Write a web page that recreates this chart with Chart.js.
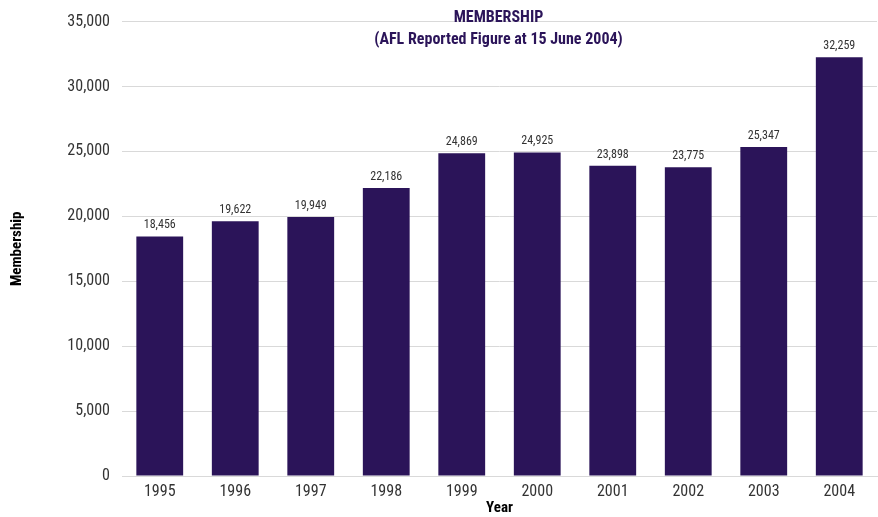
<!DOCTYPE html>
<html>
<head>
<meta charset="utf-8">
<script src="https://cdn.jsdelivr.net/npm/chart.js@4"></script>
<style>
html,body{margin:0;padding:0;background:#fff;}
#wrap{width:878px;height:517px;}
</style>
</head>
<body>
<div id="wrap"><canvas id="c" width="878" height="517"></canvas></div>
<script>
const categories = ["1995","1996","1997","1998","1999","2000","2001","2002","2003","2004"];
const membership = [18456, 19622, 19949, 22186, 24869, 24925, 23898, 23775, 25347, 32259];
const titleLines = ["MEMBERSHIP", "(AFL Reported Figure at 15 June 2004)"];
const yAxisTitle = "Membership";
const xAxisTitle = "Year";

const FONT = '"Roboto Condensed", "Open Sans Condensed", sans-serif';
const BAR = '#2b1459';

const labelPlugin = {
  id: 'valueLabels',
  afterDatasetsDraw(chart) {
    const ctx = chart.ctx;
    const meta = chart.getDatasetMeta(0);
    ctx.save();
    ctx.font = '12px ' + FONT;
    ctx.fillStyle = '#333333';
    ctx.textAlign = 'center';
    ctx.textBaseline = 'bottom';
    meta.data.forEach((bar, i) => {
      ctx.fillText(membership[i].toLocaleString('en-US'), bar.x, bar.y - 5);
    });
    ctx.restore();
  }
};

const titlePlugin = {
  id: 'innerTitle',
  afterDraw(chart) {
    const ctx = chart.ctx;
    const a = chart.chartArea;
    const cx = (a.left + a.right) / 2 - 1;
    ctx.save();
    ctx.font = 'bold 16px ' + FONT;
    ctx.fillStyle = BAR;
    ctx.textAlign = 'center';
    ctx.textBaseline = 'middle';
    ctx.fillText(titleLines[0], cx, 18);
    ctx.fillText(titleLines[1], cx, 40);
    ctx.restore();
  }
};

new Chart(document.getElementById('c'), {
  type: 'bar',
  data: {
    labels: categories,
    datasets: [{
      data: membership,
      backgroundColor: BAR,
      barPercentage: 0.62,
      categoryPercentage: 1.0
    }]
  },
  options: {
    responsive: false,
    animation: false,
    devicePixelRatio: 1,
    layout: { padding: { top: 19, right: 1, left: 0, bottom: 0 } },
    plugins: { legend: { display: false }, tooltip: { enabled: false } },
    scales: {
      x: {
        grid: { display: false, drawTicks: false },
        border: { display: true, color: '#d9d9d9', width: 1 },
        ticks: { color: '#333333', font: { family: FONT, size: 16 }, padding: 6 },
        title: { display: true, text: xAxisTitle, color: '#000', font: { family: FONT, size: 15, weight: 'bold' }, padding: { top: 0, bottom: 0 } },
        afterFit(scale) { scale.height = 41; }
      },
      y: {
        min: 0, max: 35000,
        ticks: { stepSize: 5000, color: '#333333', font: { family: FONT, size: 16 }, padding: 12,
          callback: v => v.toLocaleString('en-US') },
        grid: { color: '#d9d9d9', drawTicks: false },
        border: { display: false },
        title: { display: true, text: yAxisTitle, color: '#000', font: { family: FONT, size: 15, weight: 'bold' }, padding: { top: 8, bottom: 0 } },
        afterFit(scale) { scale.width = 122; }
      }
    }
  },
  plugins: [labelPlugin, titlePlugin]
});
</script>
</body>
</html>
